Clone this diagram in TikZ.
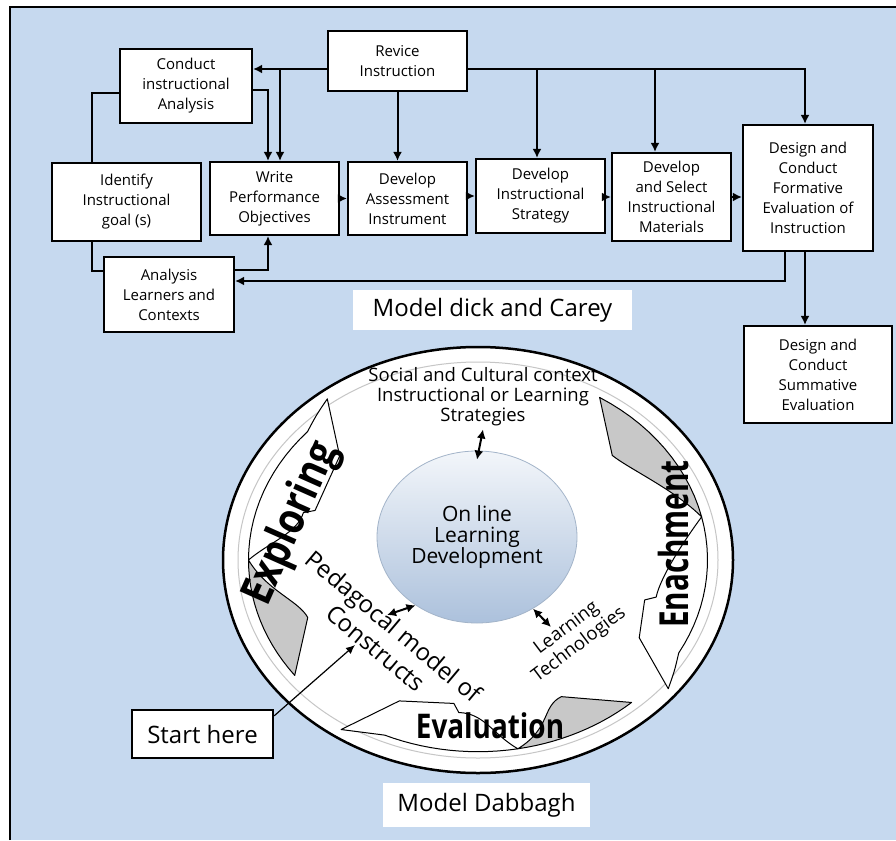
\documentclass[tikz,border=0pt]{standalone}
\usepackage{fontspec}
\setmainfont{Open Sans}
\usepackage{graphicx}
\usetikzlibrary{arrows.meta,shapes.geometric}
\definecolor{bgblue}{RGB}{198,217,239}
\definecolor{tailgray}{RGB}{200,200,200}
\definecolor{coreblue}{RGB}{172,193,220}
\tikzset{
procbox/.style={draw=black, line width=2.2pt, fill=white, align=center, inner sep=1pt, font=\fontsize{15}{20}\selectfont},
flow/.style={line width=2pt, -{Latex[length=9pt,width=9pt]}},
link/.style={line width=2pt},
titlebox/.style={fill=white, inner sep=0pt, font=\fontsize{24}{28}\selectfont},
startbox/.style={draw=black, line width=2.4pt, fill=white, inner sep=0pt, font=\fontsize{24}{28}\selectfont},
tailpart/.style={fill=tailgray, draw=black, line width=1pt, line join=round},
headpart/.style={fill=white, draw=black, line width=1pt, line join=round},
twoway/.style={line width=2pt, {Latex[length=9pt,width=9pt]}-{Latex[length=9pt,width=9pt]}},
bigword/.style={font=\fontsize{40}{40}\selectfont\bfseries, inner sep=0pt},
}
% tail, twist, notch, barb, tip angles
\newcommand{\ringarrow}[5]{%
  \filldraw[tailpart] (#1:0.9) -- ({#1-15}:0.72)
    .. controls ({#1-22}:0.73) and ({#2+10}:0.84) .. (#2:0.9)
    -- plot[domain=#2:#1, samples=15] (\x:0.9) -- cycle;
  \filldraw[headpart] (#2:0.9)
    .. controls ({#2-6}:0.82) and ({#3+8}:0.72) .. (#3:0.72)
    -- ({#3-2}:0.68) -- (#4:0.73) -- (#5:0.96)
    .. controls ({#5+5}:0.93) .. ({#5+10}:0.9)
    -- plot[domain={#5+10}:#2, samples=15] (\x:0.9) -- cycle;
}
\begin{document}
\begin{tikzpicture}[x=1pt, y=-1pt]
  \useasboundingbox (0,0) rectangle (896,840);
  \fill[bgblue] (10,7) rectangle (896,840);
  \draw[line width=2pt] (10,840) -- (10,7) -- (896,7);

  % Dick and Carey
  \node[procbox, minimum width=139pt, minimum height=60pt] at (397.5,61) (revise) {Revice\\Instruction};
  \node[procbox, minimum width=132pt, minimum height=74pt] at (186,86) (conduct) {Conduct\\instructional\\Analysis};
  \node[procbox, minimum width=149pt, minimum height=78pt] at (126.5,202) (identify) {Identify\\Instructional\\goal (s)};
  \node[procbox, minimum width=129pt, minimum height=73pt] at (274.5,198.5) (write) {Write\\Performance\\Objectives};
  \node[procbox, minimum width=119pt, minimum height=73pt] at (407.5,198.5) (assess) {Develop\\Assessment\\Instrument};
  \node[procbox, minimum width=129pt, minimum height=74pt] at (540.5,196) (strategy) {Develop\\Instructional\\Strategy};
  \node[procbox, minimum width=119pt, minimum height=88pt] at (671.5,197) (materials) {Develop\\and Select\\Instructional\\Materials};
  \node[procbox, minimum width=130pt, minimum height=126pt] at (808,188) (formative) {Design and\\Conduct\\Formative\\Evaluation of\\Instruction};
  \node[procbox, minimum width=148pt, minimum height=97pt] at (818,374.5) (summative) {Design and\\Conduct\\Summative\\Evaluation};
  \node[procbox, minimum width=130pt, minimum height=75pt] at (169,294.5) (analysis) {Analysis\\Learners and\\Contexts};
  \coordinate (topline) at (0,69);
  \coordinate (botline) at (0,281);

  \draw[flow] (revise.west |- topline) -- (conduct.east |- topline);
  \draw[flow] ([xshift=5.5pt]write.north |- topline) -- ([xshift=5.5pt]write.north);
  \draw[flow] ([yshift=-4pt]conduct.east) -| ([xshift=-6.5pt]write.north);
  \draw[link] ([yshift=-7pt]conduct.west) -| ([xshift=-34.5pt]identify.north);
  \draw[link] ([xshift=-34.5pt]identify.south) |- ([yshift=23.5pt]analysis.west);
  \draw[flow] ([yshift=24.5pt]analysis.east) -| ([xshift=-6.5pt]write.south);
  \draw[flow] (revise.south) -- (revise.south |- assess.north);
  \draw[flow] (revise.east |- topline) -| ([xshift=-3pt]formative.north);
  \draw[flow] ([xshift=-3.5pt]strategy.north |- topline) -- ([xshift=-3.5pt]strategy.north);
  \draw[flow] ([xshift=-16.5pt]materials.north |- topline) -- ([xshift=-16.5pt]materials.north);
  \draw[flow] (write.east) -- (assess.west);
  \draw[flow] (assess.east |- strategy.west) -- (strategy.west);
  \draw[flow] (strategy.east |- materials.west) -- (materials.west);
  \draw[flow] (materials.east) -- (materials.east -| formative.west);
  \draw[flow] ([xshift=-23pt]formative.south) |- (analysis.east |- botline);
  \draw[flow] ([xshift=-3pt]formative.south) -- ([xshift=-3pt]formative.south |- summative.north);
  \node[titlebox, minimum width=279pt, minimum height=40pt] at (492.5,310) (dicktitle) {Model dick and Carey};

  % Dabbagh
  \begin{scope}[shift={(478,560)}, x=255pt, y=213pt]
    \draw[fill=white, line width=2.5pt] (0,0) ellipse [x radius=255pt, y radius=213pt];
    \draw[gray!45, line width=1pt] (0,0) ellipse [x radius=240pt, y radius=198pt];
    \ringarrow{217}{180}{162}{138}{128}
    \ringarrow{58}{13}{-14}{-30}{-39}
    \ringarrow{-48}{-80}{-96}{-115}{-124}
  \end{scope}
  \node[bigword, font=\fontsize{44}{44}\selectfont\bfseries, rotate=66] at (292,524) (exploring) {\scalebox{0.84}[1]{Exploring}};
  \node[bigword, rotate=90] at (673,544) (enachment) {\scalebox{0.74}[1]{Enachment}};
  \node[bigword, font=\fontsize{34}{34}\selectfont\bfseries] at (490,726) (evaluation) {\scalebox{0.82}[1]{Evaluation}};

  \node[ellipse, draw=coreblue!80!gray, line width=0.8pt, top color=white!85!coreblue, bottom color=coreblue,
        minimum width=200pt, minimum height=172pt, align=center, font=\fontsize{21}{21}\selectfont] at (477,537) (core) {On line\\Learning\\Development};
  \node[align=center, font=\fontsize{18.5}{20}\selectfont, inner sep=0pt] at (483,397) (context) {Social and Cultural context\\Instructional or Learning\\Strategies};
  \node[align=center, rotate=-40, font=\fontsize{24}{28}\selectfont, inner sep=0pt] at (385,637) (pedagogy) {Pedagocal model of\\Constructs};
  \node[align=center, rotate=37, font=\fontsize{18.5}{21}\selectfont, inner sep=0pt] at (573,637) (tech) {Learning\\Technologies};
  \coordinate (pedend) at (387,615);
  \coordinate (techend) at (551,627);
  \draw[twoway] ([yshift=-3pt]context.south) -- ([yshift=-9pt]core.north);
  \draw[twoway] (pedend) -- (core.228);
  \draw[twoway] (core.-52) -- (techend);

  \node[startbox, minimum width=141pt, minimum height=48pt] at (202.5,734) (start) {Start here};
  \coordinate (entry) at (355,645);
  \draw[line width=1.2pt, -{Latex[length=9pt,width=8pt]}] ([yshift=-7pt]start.north east) -- (entry);
  \node[titlebox, minimum width=207pt, minimum height=44pt] at (486.5,805) (dabbaghtitle) {Model Dabbagh};
\end{tikzpicture}
\end{document}
